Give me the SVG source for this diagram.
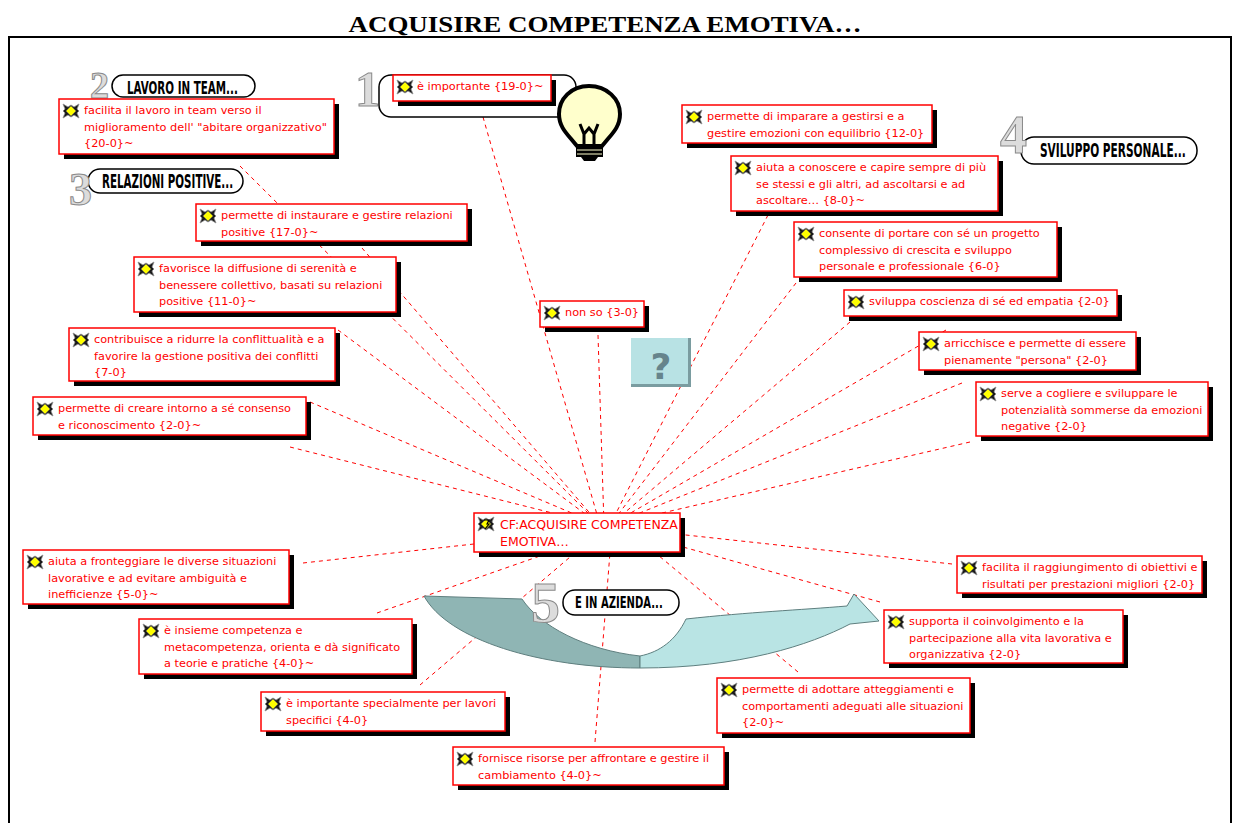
<svg xmlns="http://www.w3.org/2000/svg" width="1234" height="823" viewBox="0 0 1234 823">
  <style>
    .box{fill:#fff;stroke:#f00;stroke-width:1.5}
    .sh{fill:#000}
    .t{font-family:"DejaVu Sans",Verdana,sans-serif;font-size:11.3px;fill:#f00}
    .tc{font-family:"DejaVu Sans",Verdana,sans-serif;font-size:12.5px;fill:#f00}
    #connectors line{stroke:#f00;stroke-width:1;stroke-dasharray:4 4;fill:none}
    .pill{fill:#fff;stroke:#000;stroke-width:1.5}
    .pt{font-family:"DejaVu Sans Condensed","DejaVu Sans",sans-serif;font-weight:bold;fill:#000}
    .dg{font-family:"Liberation Serif",serif;font-weight:bold;fill:#dcdcdc;stroke:#8a8a8a;stroke-width:1}
  </style>
  <defs>
    <symbol id="ico" viewBox="0 0 18 16">
      <path d="M1,1 L6,4 L9,2 L12,4 L17,1 L15,6 L17,8 L15,10 L17,15 L12,12 L9,14 L6,12 L1,15 L3,10 L1,8 L3,6 Z" fill="#1a1a1a" stroke="#8c8c8c" stroke-width="0.8"/>
      <path d="M9,3 L14,8 L9,13 L4,8 Z" fill="#ffff00" stroke="#666" stroke-width="0.5"/>
    </symbol>
  </defs>

  <rect width="1234" height="823" fill="#fff"/>

  <!-- title and frame -->
  <text x="605" y="32" text-anchor="middle" font-family="Liberation Serif, serif" font-weight="bold" font-size="24" textLength="513" lengthAdjust="spacingAndGlyphs">ACQUISIRE COMPETENZA EMOTIVA…</text>
  <path d="M9,823 V37 H1231 V823" fill="none" stroke="#000" stroke-width="2"/>

  <!-- dashed links towards the central concept -->
  <g id="connectors">
    <line x1="483" y1="117" x2="600" y2="525"/>
    <line x1="240" y1="166" x2="600" y2="525"/>
    <line x1="362" y1="248" x2="600" y2="525"/>
    <line x1="338" y1="330" x2="600" y2="525"/>
    <line x1="310" y1="402" x2="600" y2="525"/>
    <line x1="290" y1="447" x2="600" y2="525"/>
    <line x1="598" y1="335" x2="604" y2="525"/>
    <line x1="768" y1="215" x2="610" y2="525"/>
    <line x1="796" y1="283" x2="610" y2="525"/>
    <line x1="850" y1="322" x2="610" y2="525"/>
    <line x1="946" y1="330" x2="610" y2="525"/>
    <line x1="962" y1="383" x2="610" y2="525"/>
    <line x1="970" y1="442" x2="610" y2="525"/>
    <line x1="303" y1="563" x2="600" y2="530"/>
    <line x1="377" y1="613" x2="600" y2="535"/>
    <line x1="420" y1="685" x2="590" y2="540"/>
    <line x1="595" y1="742" x2="611" y2="540"/>
    <line x1="798" y1="672" x2="640" y2="540"/>
    <line x1="880" y1="602" x2="640" y2="535"/>
    <line x1="952" y1="564" x2="640" y2="530"/>
  </g>

  <!-- section labels -->
  <g id="label-1">
    <rect x="379" y="75" width="197" height="42" rx="12" class="pill"/>
    <text x="355" y="106" font-size="50" class="dg">1</text>
  </g>
  <g id="label-2">
    <rect x="112" y="75" width="143" height="22" rx="11" class="pill"/>
    <text class="pt" font-size="18" transform="translate(127,94) scale(0.63,1)" textLength="176" lengthAdjust="spacingAndGlyphs">LAVORO IN TEAM...</text>
    <text x="90" y="98" font-size="38" class="dg">2</text>
  </g>
  <g id="label-3">
    <rect x="88" y="169" width="155" height="24" rx="12" class="pill"/>
    <text class="pt" font-size="20" transform="translate(102,188) scale(0.57,1)" textLength="230" lengthAdjust="spacingAndGlyphs">RELAZIONI POSITIVE...</text>
    <text x="69" y="205" font-size="46" class="dg">3</text>
  </g>
  <g id="label-4">
    <rect x="1021" y="137" width="176" height="27" rx="13" class="pill"/>
    <text class="pt" font-size="19" transform="translate(1040,157) scale(0.62,1)" textLength="235" lengthAdjust="spacingAndGlyphs">SVILUPPO PERSONALE...</text>
    <text x="1000" y="153" font-size="54" class="dg">4</text>
  </g>

  <!-- curved arrow -->
  <g id="arrow">
    <path d="M424,596 L522,599 C540,626 585,650 640,656 L640,668 C540,668 448,640 424,596 Z" fill="#8fb5b4" stroke="#5f7f7f" stroke-width="1"/>
    <path d="M640,668 C740,668 810,645 850,624 L879,621 L854,594 L847,606 C800,610 750,612 686,619 C676,640 660,652 640,656 Z" fill="#b9e4e4" stroke="#5f7f7f" stroke-width="1"/>
  </g>
  <g id="label-5">
    <rect x="563" y="590" width="116" height="25" rx="12" class="pill"/>
    <text class="pt" font-size="15" transform="translate(575,608) scale(0.75,1)" textLength="117" lengthAdjust="spacingAndGlyphs">E IN AZIENDA...</text>
    <text x="531" y="622" font-size="58" class="dg">5</text>
  </g>

  <!-- light bulb -->
  <g id="bulb">
    <path d="M589,86 C571,86 559,99 559,114 C559,126 566,133 572,140 L577,146 L602,146 L607,140 C613,133 620,126 620,114 C620,99 607,86 589,86 Z" fill="#ffffcc" stroke="#000" stroke-width="4"/>
    <path d="M580,124 L584,134 L589,128 L594,134 L598,124 M584,134 L584,146 M594,134 L594,146" fill="none" stroke="#000" stroke-width="3"/>
    <rect x="576" y="145" width="27" height="12" fill="#000"/>
    <path d="M577,150 H602 M577,154 H602" stroke="#ffffcc" stroke-width="1"/>
    <path d="M581,157 H598 L595,161 H584 Z" fill="#000"/>
  </g>

  <!-- question mark tile -->
  <g id="question">
    <rect x="631" y="338" width="60" height="49" fill="#b8e2e4"/>
    <path d="M688,338 H691 V387 H631 V384 H688 Z" fill="#7a9ca0"/>
    <text x="661" y="379" text-anchor="middle" font-family="DejaVu Sans, sans-serif" font-weight="bold" font-size="36" fill="#66848c">?</text>
  </g>

  <!-- concept nodes -->
  <g id="n-importante">
    <rect x="398" y="80" width="158" height="26" class="sh"/>
    <rect x="393" y="75" width="158" height="26" class="box"/>
    <use href="#ico" x="396" y="79" width="18" height="16"/>
    <text x="417" y="90" class="t">è importante {19-0}~</text>
  </g>
  <g id="n-lavoro-team">
    <rect x="64" y="104" width="275" height="55" class="sh"/>
    <rect x="59" y="99" width="275" height="55" class="box"/>
    <use href="#ico" x="62" y="103" width="18" height="16"/>
    <text x="84" y="114" class="t">facilita il lavoro in team verso il</text>
    <text x="84" y="130.5" class="t">miglioramento dell' "abitare organizzativo"</text>
    <text x="84" y="147" class="t">{20-0}~</text>
  </g>
  <g id="n-instaurare">
    <rect x="201" y="209" width="271" height="37" class="sh"/>
    <rect x="196" y="204" width="271" height="37" class="box"/>
    <use href="#ico" x="199" y="208" width="18" height="16"/>
    <text x="221" y="219" class="t">permette di instaurare e gestire relazioni</text>
    <text x="221" y="235.5" class="t">positive {17-0}~</text>
  </g>
  <g id="n-serenita">
    <rect x="139" y="262" width="262" height="55" class="sh"/>
    <rect x="134" y="257" width="262" height="55" class="box"/>
    <use href="#ico" x="137" y="261" width="18" height="16"/>
    <text x="159" y="272" class="t">favorisce la diffusione di serenità e</text>
    <text x="159" y="288.5" class="t">benessere collettivo, basati su relazioni</text>
    <text x="159" y="305" class="t">positive {11-0}~</text>
  </g>
  <g id="n-conflitti">
    <rect x="74" y="333" width="266" height="53" class="sh"/>
    <rect x="69" y="328" width="266" height="53" class="box"/>
    <use href="#ico" x="72" y="332" width="18" height="16"/>
    <text x="94" y="343" class="t">contribuisce a ridurre la conflittualità e a</text>
    <text x="94" y="359.5" class="t">favorire la gestione positiva dei conflitti</text>
    <text x="94" y="376" class="t">{7-0}</text>
  </g>
  <g id="n-consenso">
    <rect x="38" y="402" width="273" height="38" class="sh"/>
    <rect x="33" y="397" width="273" height="38" class="box"/>
    <use href="#ico" x="36" y="401" width="18" height="16"/>
    <text x="58" y="412" class="t">permette di creare intorno a sé consenso</text>
    <text x="58" y="428.5" class="t">e riconoscimento {2-0}~</text>
  </g>
  <g id="n-nonso">
    <rect x="545" y="306" width="104" height="26" class="sh"/>
    <rect x="540" y="301" width="104" height="26" class="box"/>
    <use href="#ico" x="543" y="305" width="18" height="16"/>
    <text x="565" y="316" class="t">non so {3-0}</text>
  </g>
  <g id="n-gestirsi">
    <rect x="687" y="110" width="250" height="38" class="sh"/>
    <rect x="682" y="105" width="250" height="38" class="box"/>
    <use href="#ico" x="685" y="109" width="18" height="16"/>
    <text x="707" y="120" class="t">permette di imparare a gestirsi e a</text>
    <text x="707" y="136.5" class="t">gestire emozioni con equilibrio {12-0}</text>
  </g>
  <g id="n-conoscere">
    <rect x="736" y="161" width="267" height="55" class="sh"/>
    <rect x="731" y="156" width="267" height="55" class="box"/>
    <use href="#ico" x="734" y="160" width="18" height="16"/>
    <text x="756" y="171" class="t">aiuta a conoscere e capire sempre di più</text>
    <text x="756" y="187.5" class="t">se stessi e gli altri, ad ascoltarsi e ad</text>
    <text x="756" y="204" class="t">ascoltare… {8-0}~</text>
  </g>
  <g id="n-progetto">
    <rect x="799" y="227" width="263" height="55" class="sh"/>
    <rect x="794" y="222" width="263" height="55" class="box"/>
    <use href="#ico" x="797" y="226" width="18" height="16"/>
    <text x="819" y="237" class="t">consente di portare con sé un progetto</text>
    <text x="819" y="253.5" class="t">complessivo di crescita e sviluppo</text>
    <text x="819" y="270" class="t">personale e professionale {6-0}</text>
  </g>
  <g id="n-empatia">
    <rect x="849" y="295" width="273" height="26" class="sh"/>
    <rect x="844" y="290" width="273" height="26" class="box"/>
    <use href="#ico" x="847" y="294" width="18" height="16"/>
    <text x="869" y="305" class="t">sviluppa coscienza di sé ed empatia {2-0}</text>
  </g>
  <g id="n-persona">
    <rect x="924" y="337" width="217" height="38" class="sh"/>
    <rect x="919" y="332" width="217" height="38" class="box"/>
    <use href="#ico" x="922" y="336" width="18" height="16"/>
    <text x="944" y="347" class="t">arricchisce e permette di essere</text>
    <text x="944" y="363.5" class="t">pienamente "persona" {2-0}</text>
  </g>
  <g id="n-potenzialita">
    <rect x="981" y="387" width="232" height="54" class="sh"/>
    <rect x="976" y="382" width="232" height="54" class="box"/>
    <use href="#ico" x="979" y="386" width="18" height="16"/>
    <text x="1001" y="397" class="t">serve a cogliere e sviluppare le</text>
    <text x="1001" y="413.5" class="t">potenzialità sommerse da emozioni</text>
    <text x="1001" y="430" class="t">negative {2-0}</text>
  </g>
  <g id="n-centrale">
    <rect x="479" y="518" width="206" height="39" class="sh"/>
    <rect x="474" y="513" width="206" height="39" class="box"/>
    <use href="#ico" x="477" y="516" width="18" height="16"/>
    <path d="M484,520 h5 l-2,4 h2 l-4,5" fill="none" stroke="#000" stroke-width="1.2"/>
    <text x="500" y="528.5" class="tc">CF:ACQUISIRE COMPETENZA</text>
    <text x="500" y="545.5" class="tc">EMOTIVA…</text>
  </g>
  <g id="n-ambiguita">
    <rect x="28" y="555" width="266" height="54" class="sh"/>
    <rect x="23" y="550" width="266" height="54" class="box"/>
    <use href="#ico" x="26" y="554" width="18" height="16"/>
    <text x="48" y="565" class="t">aiuta a fronteggiare le diverse situazioni</text>
    <text x="48" y="581.5" class="t">lavorative e ad evitare ambiguità e</text>
    <text x="48" y="598" class="t">inefficienze {5-0}~</text>
  </g>
  <g id="n-metacompetenza">
    <rect x="144" y="624" width="273" height="55" class="sh"/>
    <rect x="139" y="619" width="273" height="55" class="box"/>
    <use href="#ico" x="142" y="623" width="18" height="16"/>
    <text x="164" y="634" class="t">è insieme competenza e</text>
    <text x="164" y="650.5" class="t">metacompetenza, orienta e dà significato</text>
    <text x="164" y="667" class="t">a teorie e pratiche {4-0}~</text>
  </g>
  <g id="n-lavori-specifici">
    <rect x="266" y="697" width="244" height="39" class="sh"/>
    <rect x="261" y="692" width="244" height="39" class="box"/>
    <use href="#ico" x="264" y="696" width="18" height="16"/>
    <text x="286" y="707" class="t">è importante specialmente per lavori</text>
    <text x="286" y="723.5" class="t">specifici {4-0}</text>
  </g>
  <g id="n-cambiamento">
    <rect x="458" y="752" width="271" height="38" class="sh"/>
    <rect x="453" y="747" width="271" height="38" class="box"/>
    <use href="#ico" x="456" y="751" width="18" height="16"/>
    <text x="478" y="762" class="t">fornisce risorse per affrontare e gestire il</text>
    <text x="478" y="778.5" class="t">cambiamento {4-0}~</text>
  </g>
  <g id="n-atteggiamenti">
    <rect x="722" y="683" width="253" height="55" class="sh"/>
    <rect x="717" y="678" width="253" height="55" class="box"/>
    <use href="#ico" x="720" y="682" width="18" height="16"/>
    <text x="742" y="693" class="t">permette di adottare atteggiamenti e</text>
    <text x="742" y="709.5" class="t">comportamenti adeguati alle situazioni</text>
    <text x="742" y="726" class="t">{2-0}~</text>
  </g>
  <g id="n-obiettivi">
    <rect x="962" y="561" width="245" height="37" class="sh"/>
    <rect x="957" y="556" width="245" height="37" class="box"/>
    <use href="#ico" x="960" y="560" width="18" height="16"/>
    <text x="982" y="571" class="t">facilita il raggiungimento di obiettivi e</text>
    <text x="982" y="587.5" class="t">risultati per prestazioni migliori {2-0}</text>
  </g>
  <g id="n-coinvolgimento">
    <rect x="889" y="615" width="239" height="53" class="sh"/>
    <rect x="884" y="610" width="239" height="53" class="box"/>
    <use href="#ico" x="887" y="614" width="18" height="16"/>
    <text x="909" y="625" class="t">supporta il coinvolgimento e la</text>
    <text x="909" y="641.5" class="t">partecipazione alla vita lavorativa e</text>
    <text x="909" y="658" class="t">organizzativa {2-0}</text>
  </g>
</svg>
